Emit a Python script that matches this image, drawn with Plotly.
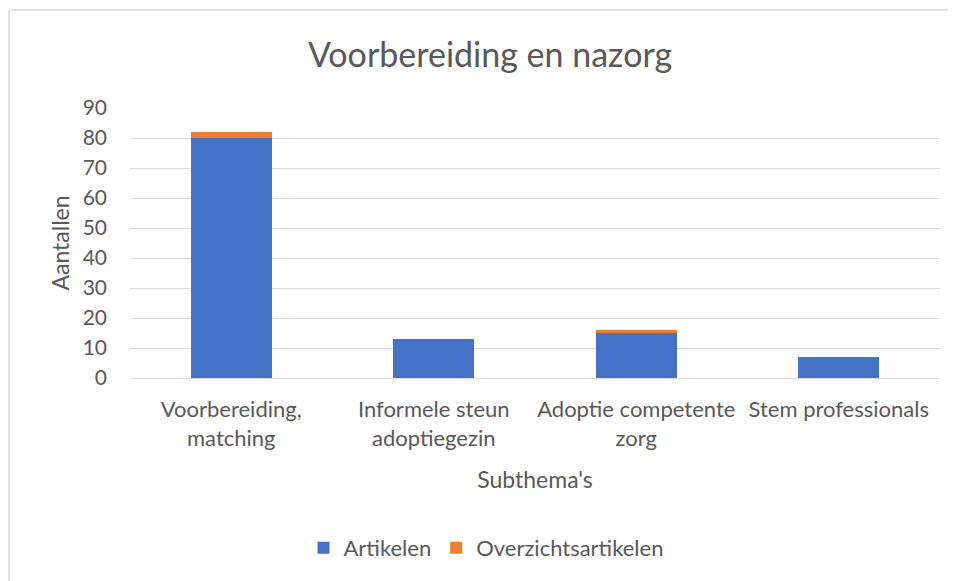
import plotly.graph_objects as go

categories = ["Voorbereiding,<br>matching", "Informele steun<br>adoptiegezin",
              "Adoptie competente<br>zorg", "Stem professionals"]
artikelen = [80, 13, 15, 7]
overzichtsartikelen = [2, 0, 1, 0]
y_ticks = [0, 10, 20, 30, 40, 50, 60, 70, 80, 90]

FONT = "Lato, 'Open Sans', sans-serif"
TXT = "#595959"

# page is rendered with an 8px body margin; figure is sized/positioned to compensate
W, H = 948, 573
L, R, T, B = 122, 16, 100, 203
PW, PH = W - L - R, H - T - B

fig = go.Figure()
fig.add_trace(go.Bar(name="Artikelen", x=categories, y=artikelen,
                     marker=dict(color="#4472C4", line=dict(width=0))))
fig.add_trace(go.Bar(name="Overzichtsartikelen", x=categories, y=overzichtsartikelen,
                     marker=dict(color="#ED7D31", line=dict(width=0))))

fig.update_layout(
    barmode="stack",
    bargap=0.6,
    width=W, height=H,
    margin=dict(l=L, r=R, t=T, b=B),
    paper_bgcolor="white", plot_bgcolor="white",
    font=dict(family=FONT, color=TXT, size=21),
    title=dict(text="Voorbereiding en nazorg", x=482 / W, xref="container", xanchor="center",
               y=1 - 47 / H, yanchor="middle",
               font=dict(size=34, color=TXT, family=FONT)),
    showlegend=True,
    legend=dict(orientation="h", traceorder="normal",
                x=(478 - L) / PW, xanchor="center",
                y=(T + PH - 540) / PH, yanchor="middle",
                font=dict(size=22, color=TXT), itemsizing="constant"),
    xaxis=dict(showgrid=False, showline=False, zeroline=False, ticks="",
               tickfont=dict(size=22, color=TXT), ticklabelstandoff=16,
               title=dict(text="Subthema's", font=dict(size=23, color=TXT), standoff=22)),
    yaxis=dict(range=[0, 90], tickvals=y_ticks, showgrid=True, gridcolor="#d9d9d9",
               gridwidth=1, zeroline=True, zerolinecolor="#d9d9d9", zerolinewidth=1,
               showline=False, ticks="", tickfont=dict(size=21, color=TXT),
               ticklabelstandoff=22,
               title=dict(text="Aantallen", font=dict(size=23, color=TXT), standoff=6)),
    shapes=[
        dict(type="line", xref="paper", yref="paper",
             x0=(1 - L) / PW, x1=1.03, y0=(T + PH - 2) / PH, y1=(T + PH - 2) / PH,
             line=dict(color="#d9d9d9", width=1.5)),
        dict(type="line", xref="paper", yref="paper",
             x0=(1 - L) / PW, x1=(1 - L) / PW, y0=(T + PH - 2) / PH, y1=-0.8,
             line=dict(color="#d9d9d9", width=1.5)),
    ],
)

fig.write_html("out.html")
